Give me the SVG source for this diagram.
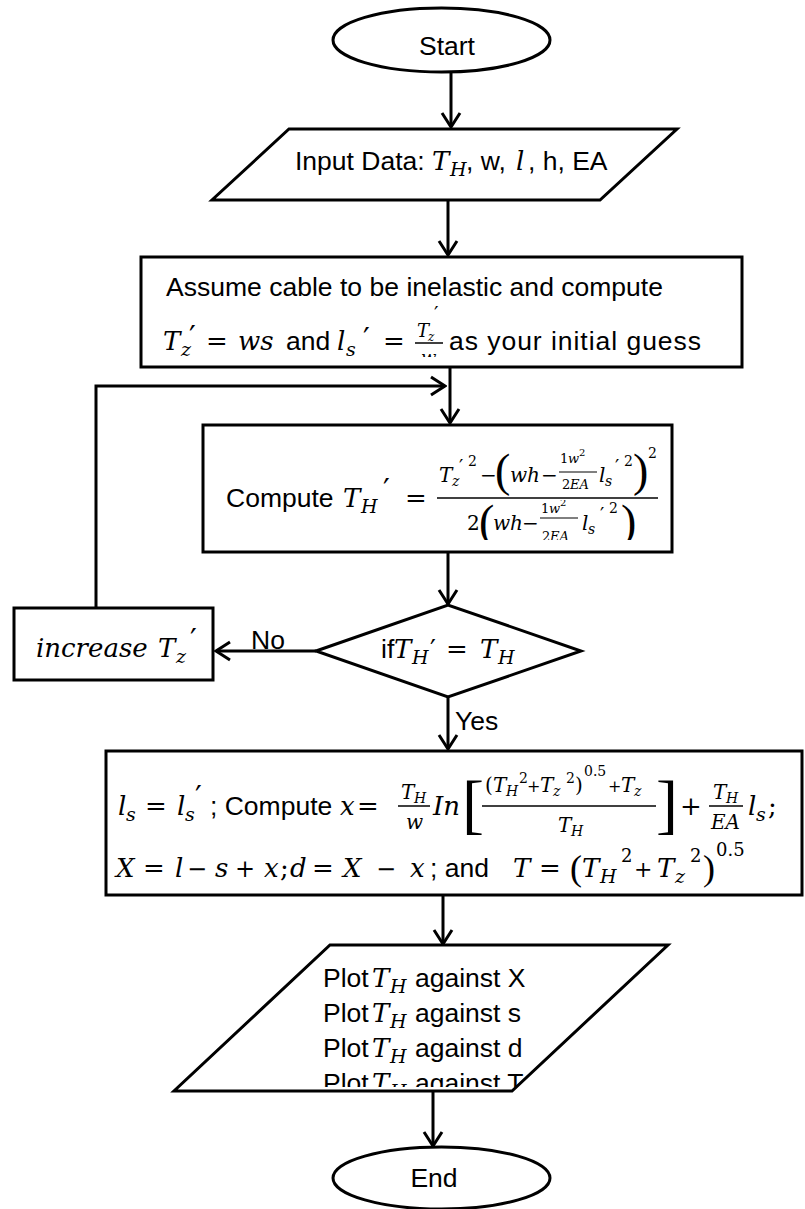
<svg xmlns="http://www.w3.org/2000/svg" width="805" height="1209" viewBox="0 0 805 1209">
<style>
.shape{fill:#fff;stroke:#000;stroke-width:3}
.ln{fill:none;stroke:#000;stroke-width:3}
.bar{stroke:#000;stroke-width:1.5}
.t{font-family:"Liberation Sans",Arial,sans-serif;font-style:normal;font-size:26.5px;fill:#000}
.m{font-family:"DejaVu Serif",serif;font-style:italic;font-size:26px;fill:#000}
.u{font-family:"DejaVu Serif",serif;font-style:normal}
.p{font-family:"Liberation Serif",serif;font-style:normal}
.pr{font-family:"DejaVu Serif",serif;font-style:normal;font-size:30px;fill:#000}
</style>
<defs>
<marker id="ah" viewBox="0 0 18 22" refX="16" refY="11" markerWidth="18" markerHeight="22" markerUnits="userSpaceOnUse" orient="auto">
<path d="M2,2 L16,11 L2,20" fill="none" stroke="#000" stroke-width="3"/>
</marker>
<clipPath id="cA"><rect x="400" y="340" width="60" height="17"/></clipPath>
<clipPath id="cC"><rect x="440" y="500" width="220" height="40"/></clipPath>
<clipPath id="cP"><rect x="170" y="940" width="520" height="147"/></clipPath>
</defs>

<g id="connectors">
<line class="ln" x1="451" y1="72" x2="451" y2="127" marker-end="url(#ah)"/>
<line class="ln" x1="448" y1="200" x2="448" y2="255" marker-end="url(#ah)"/>
<line class="ln" x1="450" y1="367" x2="450" y2="423" marker-end="url(#ah)"/>
<polyline class="ln" points="96,608 96,386 445,386" marker-end="url(#ah)"/>
<line class="ln" x1="448" y1="552" x2="448" y2="604" marker-end="url(#ah)"/>
<line class="ln" x1="316" y1="651" x2="216" y2="651" marker-end="url(#ah)"/>
<line class="ln" x1="448" y1="697" x2="448" y2="749" marker-end="url(#ah)"/>
<line class="ln" x1="443" y1="895" x2="443" y2="944" marker-end="url(#ah)"/>
<line class="ln" x1="433" y1="1091" x2="433" y2="1146" marker-end="url(#ah)"/>
<text class="t" x="251" y="649">No</text>
<text class="t" x="455" y="730">Yes</text>
</g>

<g id="start">
<ellipse class="shape" cx="441.5" cy="40" rx="108.5" ry="32"/>
<text class="t" x="447" y="55" text-anchor="middle">Start</text>
</g>

<g id="input">
<polygon class="shape" points="289,129 677,129 600,200 212,200"/>
<text class="t" y="170"><tspan x="295">Input Data:</tspan><tspan class="m" x="432">T</tspan><tspan class="m" x="450" y="176" style="font-size:19px">H</tspan><tspan x="466" y="170">, w,</tspan><tspan class="m" x="516">l</tspan><tspan x="528">, h, EA</tspan></text>
</g>

<g id="assume">
<rect class="shape" x="141" y="257" width="601" height="110"/>
<text class="t" x="166" y="296" textLength="497" lengthAdjust="spacing">Assume cable to be inelastic and compute</text>
<text class="m" y="350"><tspan x="163">T</tspan><tspan x="181" y="356" style="font-size:19px">z</tspan><tspan class="u" x="206" y="350">=</tspan><tspan x="238">ws</tspan><tspan class="t" x="286">and</tspan><tspan x="337">l</tspan><tspan x="346" y="356" style="font-size:19px">s</tspan><tspan class="u" x="383" y="350">=</tspan></text>
<text class="pr" x="189" y="347">′</text>
<text class="pr" x="363" y="349">′</text>
<text class="m" style="font-size:18px"><tspan x="417" y="337">T</tspan><tspan x="428" y="341" style="font-size:12px">z</tspan></text>
<text class="pr" x="434" y="321" style="font-size:20px">′</text>
<line class="bar" x1="415" y1="343" x2="443" y2="343"/>
<text class="m" x="421" y="364" style="font-size:18px" clip-path="url(#cA)">w</text>
<text class="t" x="449" y="350" textLength="252" lengthAdjust="spacing">as your initial guess</text>
</g>

<g id="compute">
<rect class="shape" x="203" y="425" width="469" height="127"/>
<text class="t" x="226" y="507">Compute</text>
<text class="m" y="507"><tspan x="343">T</tspan><tspan x="361" y="513" style="font-size:19px">H</tspan><tspan class="u" x="405" y="507">=</tspan></text>
<text class="pr" x="383" y="500">′</text>
<text class="m" style="font-size:20px"><tspan x="439" y="482">T</tspan><tspan x="452" y="486" style="font-size:14px">z</tspan><tspan class="u" x="468" y="466" style="font-size:14px">2</tspan><tspan class="u" x="480" y="482">−</tspan><tspan x="510" y="482">wh</tspan><tspan class="u" x="541" y="482">−</tspan><tspan x="599" y="482">l</tspan><tspan x="605" y="486" style="font-size:14px">s</tspan><tspan class="u" x="624" y="466" style="font-size:14px">2</tspan><tspan class="u" x="648" y="458" style="font-size:14px">2</tspan></text>
<text class="pr" x="459" y="473" style="font-size:19px">′</text>
<text class="pr" x="615" y="473" style="font-size:19px">′</text>
<text class="p" x="495" y="486" style="font-size:46px">(</text>
<text class="p" x="633" y="486" style="font-size:46px">)</text>
<text class="m" style="font-size:13px"><tspan class="u" x="560" y="463">1</tspan><tspan x="568" y="463">w</tspan><tspan class="u" x="579" y="456" style="font-size:10px">2</tspan><tspan class="u" x="562" y="489">2</tspan><tspan x="570" y="489">EA</tspan></text>
<line x1="559" y1="472" x2="597" y2="472" stroke="#000" stroke-width="1"/>
<line class="bar" x1="437" y1="498" x2="658" y2="498"/>
<g clip-path="url(#cC)">
<text class="m" style="font-size:20px"><tspan class="u" x="467" y="530">2</tspan><tspan x="493" y="530">wh</tspan><tspan class="u" x="522" y="530">−</tspan><tspan x="582" y="530">l</tspan><tspan x="588" y="534" style="font-size:14px">s</tspan><tspan class="u" x="609" y="513" style="font-size:14px">2</tspan></text>
<text class="pr" x="600" y="521" style="font-size:19px">′</text>
<text class="p" x="479" y="537" style="font-size:46px">(</text>
<text class="p" x="621" y="537" style="font-size:46px">)</text>
<text class="m" style="font-size:13px"><tspan class="u" x="541" y="513">1</tspan><tspan x="549" y="513">w</tspan><tspan class="u" x="560" y="506" style="font-size:10px">2</tspan><tspan class="u" x="542" y="541">2</tspan><tspan x="550" y="541">EA</tspan></text>
<line x1="540" y1="518" x2="578" y2="518" stroke="#000" stroke-width="1"/>
</g>
</g>

<g id="decision">
<polygon class="shape" points="316,651 448,605 581,651 448,697"/>
<text class="t" x="381" y="658">if</text>
<text class="m" y="658"><tspan x="394">T</tspan><tspan x="412" y="664" style="font-size:19px">H</tspan><tspan class="u" x="446" y="658">=</tspan><tspan x="480">T</tspan><tspan x="498" y="664" style="font-size:19px">H</tspan></text>
<text class="pr" x="430" y="658" style="font-size:26px">′</text>
</g>

<g id="increase">
<rect class="shape" x="14" y="608" width="199" height="72"/>
<text class="m" y="657"><tspan x="36">increase</tspan><tspan x="158">T</tspan><tspan x="176" y="663" style="font-size:19px">z</tspan></text>
<text class="pr" x="190" y="650">′</text>
</g>

<g id="result">
<rect class="shape" x="106" y="751" width="696" height="144"/>
<text class="m" y="815"><tspan x="118">l</tspan><tspan x="126" y="821" style="font-size:19px">s</tspan><tspan class="u" x="145" y="815">=</tspan><tspan x="177">l</tspan><tspan x="185" y="821" style="font-size:19px">s</tspan></text>
<text class="pr" x="195" y="807">′</text>
<text class="t" x="210" y="815">; Compute</text>
<text class="m" y="815"><tspan x="340">x</tspan><tspan class="u" x="357">=</tspan><tspan x="433">In</tspan><tspan class="u" x="680">+</tspan><tspan x="748">l</tspan><tspan x="756" y="821" style="font-size:19px">s</tspan><tspan class="u" x="768" y="815">;</tspan></text>
<text class="m" style="font-size:20px"><tspan x="401" y="799">T</tspan><tspan x="414" y="803" style="font-size:14px">H</tspan><tspan x="406" y="829">w</tspan><tspan x="713" y="799">T</tspan><tspan x="726" y="803" style="font-size:14px">H</tspan><tspan x="711" y="829">EA</tspan><tspan x="558" y="832">T</tspan><tspan x="571" y="836" style="font-size:14px">H</tspan></text>
<line class="bar" x1="398" y1="806" x2="430" y2="806"/>
<line class="bar" x1="709" y1="806" x2="743" y2="806"/>
<line class="bar" x1="482" y1="806" x2="656" y2="806"/>
<text class="p" x="462" y="826" style="font-size:66px">[</text>
<text class="p" x="656" y="826" style="font-size:66px">]</text>
<text class="m" style="font-size:20px"><tspan class="u" x="485" y="792">(</tspan><tspan x="493" y="792">T</tspan><tspan x="506" y="796" style="font-size:14px">H</tspan><tspan class="u" x="519" y="783" style="font-size:14px">2</tspan><tspan class="u" x="527" y="792" style="font-size:16px">+</tspan><tspan x="540" y="792">T</tspan><tspan x="553" y="796" style="font-size:14px">z</tspan><tspan class="u" x="566" y="783" style="font-size:14px">2</tspan><tspan class="u" x="575" y="792">)</tspan><tspan class="u" x="584" y="776" style="font-size:14px">0.5</tspan><tspan class="u" x="608" y="792" style="font-size:16px">+</tspan><tspan x="621" y="792">T</tspan><tspan x="634" y="796" style="font-size:14px">z</tspan></text>
<text class="m" y="877"><tspan x="116">X</tspan><tspan class="u" x="143">=</tspan><tspan x="175">l</tspan><tspan class="u" x="187" style="font-size:24px">−</tspan><tspan x="215" style="font-size:26px">s</tspan><tspan class="u" x="235" style="font-size:24px">+</tspan><tspan x="264" style="font-size:26px">x</tspan><tspan class="u" x="280" style="font-size:26px">;</tspan><tspan x="290">d</tspan><tspan class="u" x="312">=</tspan><tspan x="343">X</tspan><tspan class="u" x="376" style="font-size:24px">−</tspan><tspan x="410" style="font-size:26px">x</tspan></text>
<text class="t" x="430" y="877">; and</text>
<text class="m" y="877"><tspan x="513">T</tspan><tspan class="u" x="539">=</tspan><tspan x="582">T</tspan><tspan x="600" y="883" style="font-size:19px">H</tspan><tspan class="u" x="621" y="862" style="font-size:18px">2</tspan><tspan class="u" x="634" y="877" style="font-size:22px">+</tspan><tspan x="657" y="877" style="font-size:26px">T</tspan><tspan x="675" y="883" style="font-size:19px">z</tspan><tspan class="u" x="690" y="862" style="font-size:18px">2</tspan><tspan class="u" x="716" y="856" style="font-size:18px">0.5</tspan></text>
<text class="p" x="570" y="880" style="font-size:36px">(</text>
<text class="p" x="703" y="880" style="font-size:36px">)</text>
</g>

<g id="plot">
<polygon class="shape" points="330,945 668,945 512,1091 174,1091"/>
<g clip-path="url(#cP)">
<text class="t" y="987"><tspan x="323">Plot</tspan><tspan class="m" x="372">T</tspan><tspan class="m" x="390" y="993" style="font-size:19px">H</tspan><tspan x="415" y="987">against X</tspan></text>
<text class="t" y="1022"><tspan x="323">Plot</tspan><tspan class="m" x="372">T</tspan><tspan class="m" x="390" y="1028" style="font-size:19px">H</tspan><tspan x="415" y="1022">against s</tspan></text>
<text class="t" y="1057"><tspan x="323">Plot</tspan><tspan class="m" x="372">T</tspan><tspan class="m" x="390" y="1063" style="font-size:19px">H</tspan><tspan x="415" y="1057">against d</tspan></text>
<text class="t" y="1092"><tspan x="323">Plot</tspan><tspan class="m" x="372">T</tspan><tspan class="m" x="390" y="1098" style="font-size:19px">H</tspan><tspan x="415" y="1092">against T</tspan></text>
</g>
</g>

<g id="end">
<ellipse class="shape" cx="441.5" cy="1178" rx="108.5" ry="31"/>
<text class="t" x="434" y="1187" text-anchor="middle">End</text>
</g>
</svg>
